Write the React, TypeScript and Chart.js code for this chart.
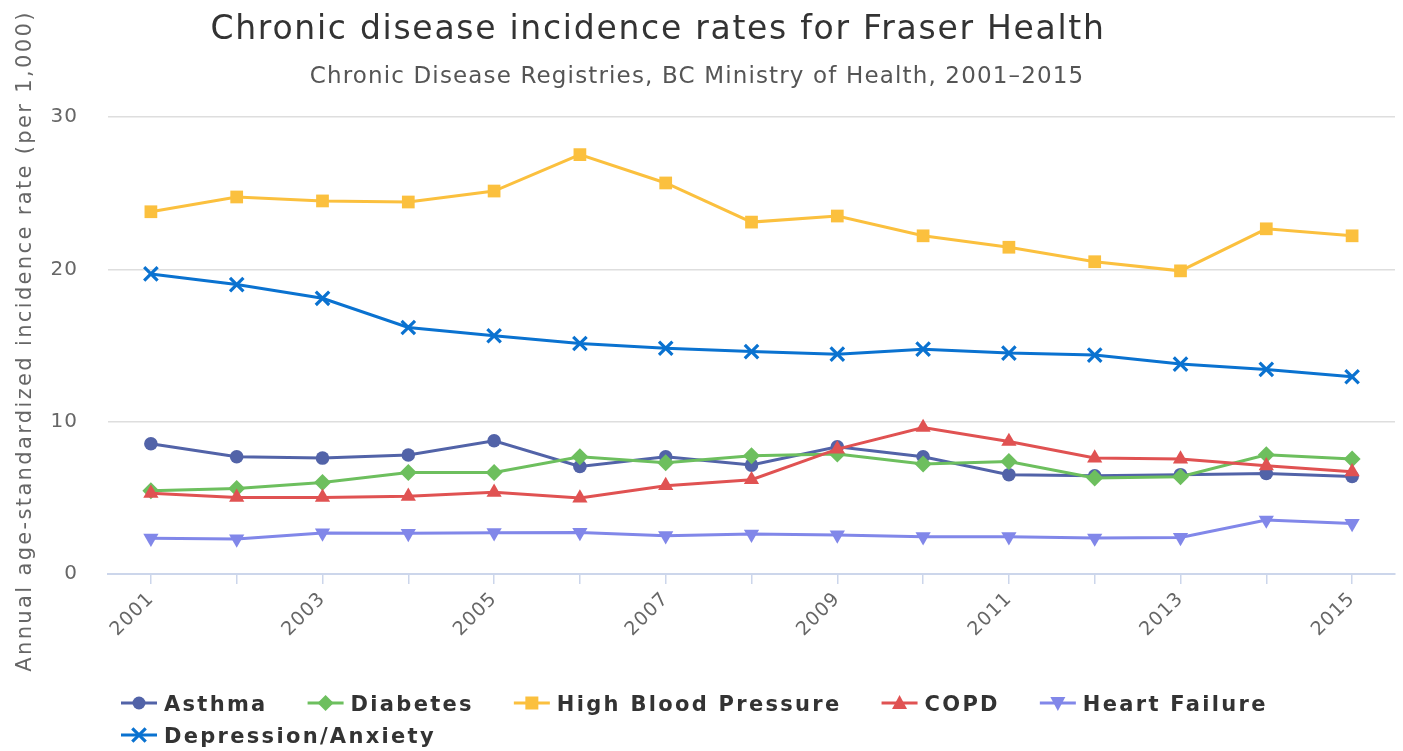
import React, { useEffect, useRef } from 'react';
import { Chart, registerables } from 'chart.js';

Chart.register(...registerables);

const years = ['2001', '2002', '2003', '2004', '2005', '2006', '2007', '2008', '2009', '2010', '2011', '2012', '2013', '2014', '2015'];
const yTicks = [0, 10, 20, 30];

const asthma = [8.55, 7.7, 7.61, 7.81, 8.75, 7.06, 7.7, 7.15, 8.35, 7.7, 6.52, 6.45, 6.52, 6.6, 6.4];
const diabetes = [5.47, 5.62, 6.01, 6.67, 6.67, 7.7, 7.3, 7.76, 7.87, 7.22, 7.39, 6.3, 6.38, 7.83, 7.55];
const highBloodPressure = [23.78, 24.75, 24.49, 24.42, 25.14, 27.53, 25.67, 23.1, 23.5, 22.2, 21.45, 20.5, 19.9, 22.66, 22.2];
const copd = [5.3, 5.03, 5.03, 5.1, 5.36, 4.99, 5.8, 6.19, 8.2, 9.62, 8.7, 7.61, 7.55, 7.1, 6.71];
const heartFailure = [2.35, 2.3, 2.69, 2.67, 2.71, 2.73, 2.51, 2.62, 2.56, 2.45, 2.45, 2.36, 2.4, 3.54, 3.32];
const depressionAnxiety = [19.7, 19.0, 18.1, 16.18, 15.64, 15.13, 14.82, 14.6, 14.43, 14.76, 14.5, 14.37, 13.78, 13.43, 12.95];

const TITLE = 'Chronic disease incidence rates for Fraser Health';
const SUBTITLE = 'Chronic Disease Registries, BC Ministry of Health, 2001\u20132015';
const Y_TITLE = 'Annual age-standardized incidence rate (per 1,000)';

const FONT = '"DejaVu Sans", "Noto Sans", sans-serif';

type SeriesDef = {
  label: string;
  data: number[];
  color: string;
  marker: 'circle' | 'diamond' | 'square' | 'triangle' | 'triangleDown' | 'x';
};

const series: SeriesDef[] = [
  { label: 'Asthma', data: asthma, color: '#5263a8', marker: 'circle' },
  { label: 'Diabetes', data: diabetes, color: '#6dbf5e', marker: 'diamond' },
  { label: 'High Blood Pressure', data: highBloodPressure, color: '#fbc03e', marker: 'square' },
  { label: 'COPD', data: copd, color: '#e05252', marker: 'triangle' },
  { label: 'Heart Failure', data: heartFailure, color: '#8187e9', marker: 'triangleDown' },
  { label: 'Depression/Anxiety', data: depressionAnxiety, color: '#0a72d0', marker: 'x' },
];

function pointStyleFor(m: SeriesDef['marker']) {
  switch (m) {
    case 'circle': return { pointStyle: 'circle', pointRadius: 6.8, pointRotation: 0, pointBorderWidth: 0 };
    case 'diamond': return { pointStyle: 'rectRot', pointRadius: 8.5, pointRotation: 0, pointBorderWidth: 0 };
    case 'square': return { pointStyle: 'rect', pointRadius: 9, pointRotation: 0, pointBorderWidth: 0 };
    case 'triangle': return { pointStyle: 'triangle', pointRadius: 8.8, pointRotation: 0, pointBorderWidth: 0 };
    case 'triangleDown': return { pointStyle: 'triangle', pointRadius: 8.8, pointRotation: 180, pointBorderWidth: 0 };
    default: return { pointStyle: 'crossRot', pointRadius: 9.5, pointRotation: 0, pointBorderWidth: 3.2 };
  }
}

function drawMarker(ctx: CanvasRenderingContext2D, m: SeriesDef['marker'], x: number, y: number, color: string) {
  ctx.save();
  ctx.fillStyle = color;
  ctx.strokeStyle = color;
  ctx.beginPath();
  if (m === 'circle') {
    ctx.arc(x, y, 6.5, 0, Math.PI * 2);
    ctx.fill();
  } else if (m === 'diamond') {
    const r = 8;
    ctx.moveTo(x, y - r); ctx.lineTo(x + r, y); ctx.lineTo(x, y + r); ctx.lineTo(x - r, y); ctx.closePath();
    ctx.fill();
  } else if (m === 'square') {
    ctx.rect(x - 6.5, y - 6.5, 13, 13);
    ctx.fill();
  } else if (m === 'triangle') {
    ctx.moveTo(x, y - 8); ctx.lineTo(x + 7.5, y + 6); ctx.lineTo(x - 7.5, y + 6); ctx.closePath();
    ctx.fill();
  } else if (m === 'triangleDown') {
    ctx.moveTo(x, y + 8); ctx.lineTo(x + 7.5, y - 6); ctx.lineTo(x - 7.5, y - 6); ctx.closePath();
    ctx.fill();
  } else {
    const r = 6.7;
    ctx.lineWidth = 3.2;
    ctx.moveTo(x - r, y - r); ctx.lineTo(x + r, y + r);
    ctx.moveTo(x + r, y - r); ctx.lineTo(x - r, y + r);
    ctx.stroke();
  }
  ctx.restore();
}

const decorPlugin = {
  id: 'decor',
  beforeUpdate(chart: any) {
    chart.ctx.letterSpacing = '1px';
  },
  beforeDraw(chart: any) {
    const ctx = chart.ctx;
    ctx.save();
    ctx.fillStyle = '#ffffff';
    ctx.fillRect(0, 0, chart.width, chart.height);
    ctx.restore();
    ctx.letterSpacing = '1px';
  },
  afterDraw(chart: any) {
    const ctx: CanvasRenderingContext2D = chart.ctx;
    ctx.save();
    const c: any = ctx;

    // Title
    ctx.fillStyle = '#333333';
    ctx.font = `33px ${FONT}`;
    c.letterSpacing = '1.72px';
    ctx.textAlign = 'center';
    ctx.textBaseline = 'alphabetic';
    ctx.fillText(TITLE, 658, 39);

    // Subtitle
    ctx.fillStyle = '#555555';
    ctx.font = `23px ${FONT}`;
    c.letterSpacing = '1.15px';
    ctx.fillText(SUBTITLE, 697, 83);

    // Y axis title
    ctx.save();
    ctx.fillStyle = '#666666';
    ctx.font = `21px ${FONT}`;
    c.letterSpacing = '2.35px';
    ctx.translate(31, 341);
    ctx.rotate(-Math.PI / 2);
    ctx.textAlign = 'center';
    ctx.fillText(Y_TITLE, 0, 0);
    ctx.restore();

    // Legend
    ctx.font = `bold 21px ${FONT}`;
    c.letterSpacing = '2.3px';
    ctx.textAlign = 'left';
    const startX = 121;
    const maxX = 1300;
    const rowBaselines = [711, 743];
    let x = startX;
    let row = 0;
    series.forEach((s) => {
      const tw = ctx.measureText(s.label).width;
      const itemW = 43 + tw;
      if (x + itemW > maxX && x > startX) {
        row += 1;
        x = startX;
      }
      const base = rowBaselines[Math.min(row, rowBaselines.length - 1)] + (row > 1 ? (row - 1) * 32 : 0);
      const cy = base - 8;
      ctx.save();
      ctx.strokeStyle = s.color;
      ctx.lineWidth = 3;
      ctx.beginPath();
      ctx.moveTo(x, cy);
      ctx.lineTo(x + 36, cy);
      ctx.stroke();
      ctx.restore();
      drawMarker(ctx, s.marker, x + 18, cy, s.color);
      ctx.fillStyle = '#333333';
      ctx.fillText(s.label, x + 43, base);
      x += itemW + 40;
    });

    ctx.restore();
  },
};

export default function App() {
  const canvasRef = useRef<HTMLCanvasElement | null>(null);

  useEffect(() => {
    document.body.style.margin = '0';
    const canvas = canvasRef.current;
    if (!canvas) return;

    const datasets = series.map((s, i) => ({
      label: s.label,
      data: s.data,
      borderColor: s.color,
      backgroundColor: s.color,
      pointBackgroundColor: s.color,
      pointBorderColor: s.color,
      borderWidth: 3,
      tension: 0,
      fill: false,
      order: series.length - i,
      ...pointStyleFor(s.marker),
    }));

    const chart = new Chart(canvas, {
      type: 'line',
      data: { labels: years, datasets: datasets as any },
      plugins: [decorPlugin as any],
      options: {
        animation: false,
        responsive: false,
        devicePixelRatio: 1,
        layout: { autoPadding: false, padding: { top: 117, right: 8, left: 0, bottom: 0 } },
        plugins: {
          legend: { display: false },
          title: { display: false },
          tooltip: { enabled: false },
        },
        scales: {
          x: {
            type: 'category',
            offset: true,
            grid: {
              drawOnChartArea: false,
              drawTicks: true,
              tickLength: 10,
              color: '#ccd6eb',
              lineWidth: 1.5,
              offset: false,
            },
            border: { display: true, color: '#ccd6eb', width: 2 },
            ticks: {
              autoSkip: false,
              minRotation: 45,
              maxRotation: 45,
              padding: 4,
              color: '#666666',
              font: { family: FONT, size: 19 },
              callback: (_v: any, i: number) => (i % 2 === 0 ? years[i] : ''),
            },
            afterFit: (scale: any) => {
              scale.height = 177;
              scale.paddingLeft = 0;
              scale.paddingRight = 0;
            },
          },
          y: {
            min: yTicks[0],
            max: yTicks[yTicks.length - 1],
            afterBuildTicks: (scale: any) => {
              scale.ticks = yTicks.map((v) => ({ value: v }));
            },
            grid: {
              drawTicks: false,
              color: (ctx: any) => (ctx.tick && ctx.tick.value === 0 ? 'rgba(0,0,0,0)' : '#dedede'),
              lineWidth: 1.5,
            },
            border: { display: false },
            ticks: {
              padding: 30,
              color: '#666666',
              font: { family: FONT, size: 20 },
            },
            afterFit: (scale: any) => {
              scale.width = 108;
            },
          },
        },
      },
    });

    return () => {
      chart.destroy();
    };
  }, []);

  return (
    <div style={{ width: 1403, height: 751, background: '#fff' }}>
      <canvas ref={canvasRef} width={1403} height={751} style={{ display: 'block' }} />
    </div>
  );
}
